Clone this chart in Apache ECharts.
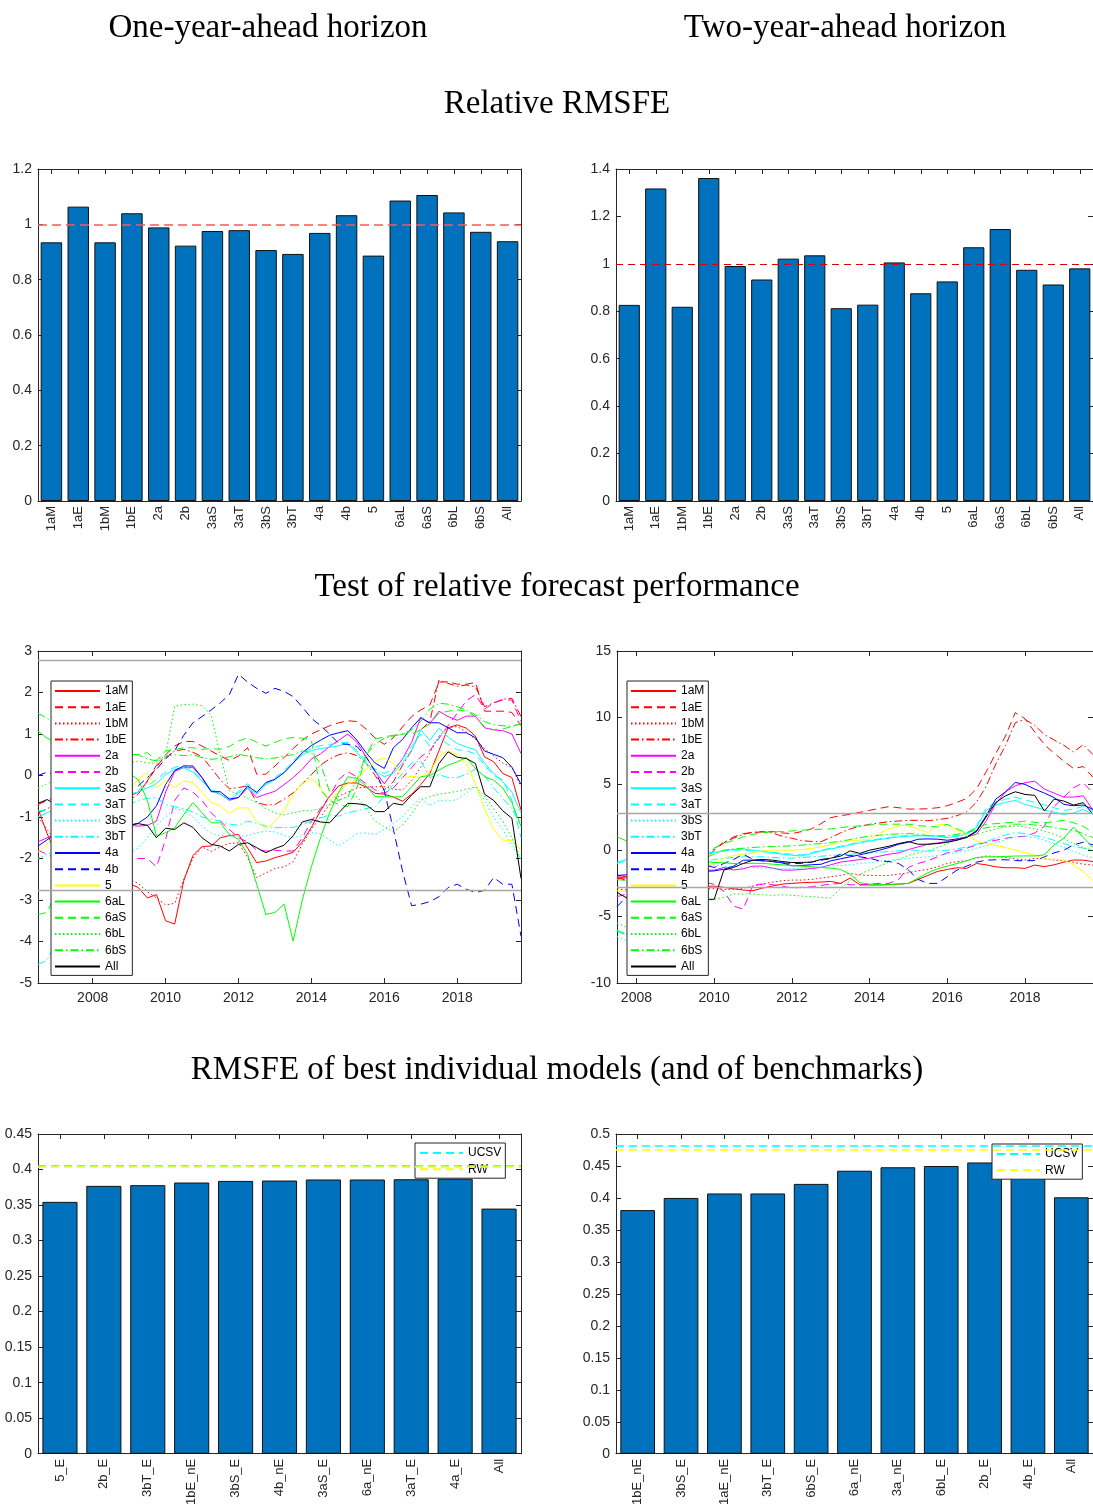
<!DOCTYPE html>
<html><head><meta charset="utf-8">
<script src="https://cdn.jsdelivr.net/npm/echarts@6/dist/echarts.min.js"></script>
<style>html,body{margin:0;padding:0;background:#fff}#c{width:1093px;height:1508px}</style>
</head><body><div id="c"></div>
<script>
// ---------- DATA ----------
const modelNames = ['1aM','1aE','1bM','1bE','2a','2b','3aS','3aT','3bS','3bT','4a','4b','5','6aL','6aS','6bL','6bS','All'];
const relRmsfe1y = [0.935,1.064,0.935,1.040,0.989,0.923,0.976,0.979,0.907,0.893,0.969,1.033,0.887,1.086,1.106,1.043,0.973,0.939];
const relRmsfe2y = [0.827,1.318,0.819,1.362,0.991,0.934,1.022,1.036,0.813,0.828,1.006,0.876,0.926,1.070,1.147,0.975,0.913,0.981];
const refLevel = 1;

// Test of relative forecast performance: quarterly, 1y from 2006Q3, 2y from 2007Q3
const start1y = 2006.5, start2y = 2007.5;
const critVal = 2.77;
const yearTicks = [2008,2010,2012,2014,2016,2018];

const perf1y_1aM = [-0.8,-1.4, -1.9,-2.2,-2.4,-2.3, -2.5,-2.6,-2.4,-2.5, -2.6,-2.7,-2.95,-2.87, -3.5,-3.58,-2.53,-1.93, -1.71,-1.7,-1.5,-1.45, -1.42,-1.75,-2.1,-2.06, -1.98,-1.92,-1.85,-1.6, -1.25,-0.85,-0.5,-0.25, -0.18,-0.18,-0.28,-0.43, -0.45,-0.52,-0.62,-0.45, -0.22,0.05,0.6,1.15, 1.22,1.14,0.95,0.45, 0.33,0.05,-0.05,-0.83];
const perf1y_1aE = [-0.7,-0.6, -0.5,-0.4,-0.3,-0.2, -0.3,-0.4,-0.5,-0.6, -0.5,-0.4,-0.15,0.2, 0.5,0.71,0.82,0.82, 0.71,0.59,0.47,0.36, 0.47,0.67,0.03,0.03, 0.23,0.43,0.65,0.85, 1.0,1.1,1.2,1.27, 1.32,1.3,1.12,0.9, 0.75,0.91,1.17,1.42, 1.58,1.7,2.25,2.26, 2.2,2.2,2.24,1.55, 1.55,1.55,1.52,1.2];
const perf1y_1bM = [-1.0,-1.3, -1.6,-1.9,-2.1,-2.2, -2.3,-2.4,-2.4,-2.5, -2.5,-2.6,-2.8,-2.95, -3.12,-3.08,-2.5,-2.0, -1.72,-1.83,-1.72,-1.64, -1.62,-1.98,-2.46,-2.35, -2.24,-2.2,-2.08,-1.65, -1.3,-1.0,-0.7,-0.5, -0.4,-0.3,-0.28,-0.27, -0.27,-0.33,-0.35,-0.12, 0.2,0.55,0.95,1.15, 1.18,1.05,0.87,0.65, 0.47,0.3,0.2,-0.27];
const perf1y_1bE = [-0.9,-0.8, -0.7,-0.6,-0.5,-0.6, -0.7,-0.8,-0.7,-0.6, -0.6,-0.45,-0.13,0.25, 0.43,0.59,0.63,0.56, 0.45,0.18,-0.1,-0.32, -0.29,-0.25,-0.65,-0.71, -0.7,-0.57,-0.42,-0.2, 0.02,0.25,0.4,0.5, 0.55,0.48,0.3,0.0, -0.35,-0.15,0.25,0.6, 1.1,1.3,2.3,2.22, 2.15,2.18,2.14,1.66, 1.75,1.84,1.86,1.42];
const perf1y_2a = [-1.6,-1.5, -1.4,-1.3,-1.2,-1.2, -1.3,-1.3,-1.2,-1.2, -1.2,-1.22,-1.2,-1.1, -0.4,0.1,0.19,0.19, -0.05,-0.37,-0.45,-0.6, -0.53,-0.3,-0.53,-0.45, -0.38,-0.22,-0.05,0.15, 0.4,0.52,0.7,0.85, 1.0,0.8,0.45,0.1, -0.2,0.1,0.4,0.8, 1.4,1.25,1.55,1.42, 1.33,1.43,1.43,1.15, 1.1,1.08,1.0,0.53];
const perf1y_2b = [-1.8,-1.9, -2.0,-2.1,-2.1,-2.0, -2.0,-1.9,-1.9,-1.9, -1.95,-2.0,-2.0,-2.2, -1.55,-0.6,-0.3,-0.4, -0.6,-0.9,-1.1,-1.3, -1.5,-1.6,-1.8,-1.82, -1.8,-1.82,-1.82,-1.5, -1.1,-0.8,-0.5,-0.1, 0.09,-0.03,-0.2,-0.35, -0.43,-0.3,-0.05,0.19, 0.45,0.6,0.9,1.2, 1.5,1.8,1.95,1.6, 1.75,1.82,1.82,1.3];
const perf1y_3aS = [-1.0,-0.9, -0.8,-0.7,-0.6,-0.6, -0.6,-0.7,-0.6,-0.5, -0.45,-0.4,-0.3,-0.2, 0.02,0.15,0.19,0.08, -0.13,-0.37,-0.45,-0.6, -0.42,-0.3,-0.45,-0.22, -0.1,0.07,0.3,0.5, 0.6,0.65,0.68,0.72, 0.77,0.55,0.3,0.1, -0.03,0.05,0.3,0.61, 1.1,0.85,1.14,0.93, 0.77,0.69,0.62,0.3, 0.05,-0.15,-0.4,-0.9];
const perf1y_3aT = [-0.85,-0.85, -0.8,-0.7,-0.65,-0.6, -0.6,-0.65,-0.6,-0.5, -0.45,-0.35,-0.25,-0.1, 0.08,0.2,0.25,0.12, -0.1,-0.35,-0.42,-0.55, -0.38,-0.2,-0.4,-0.2, -0.05,0.12,0.35,0.55, 0.65,0.72,0.75,0.78, 0.8,0.6,0.35,0.15, 0.05,0.15,0.4,0.7, 1.0,0.7,0.9,0.75, 0.62,0.6,0.52,0.25, 0.0,-0.1,-0.6,-1.5];
const perf1y_3bS = [-2.0,-1.9, -1.8,-1.8,-1.7,-1.7, -1.8,-1.8,-1.9,-1.9, -1.85,-1.75,-1.5,-1.2, -1.0,-0.8,-0.84,-1.0, -1.22,-1.4,-1.45,-1.46, -1.46,-1.45,-1.38,-1.34, -1.36,-1.45,-1.5,-1.45, -1.38,-1.4,-1.55,-1.7, -1.55,-1.4,-1.38,-1.42, -1.3,-1.15,-1.0,-0.75, -0.53,-0.73,-0.6,-0.62, -0.58,-0.42,-0.27,-0.6, -1.0,-1.3,-1.7,-2.0];
const perf1y_3bT = [-4.55,-4.45, -4.0,-3.5,-3.0,-2.5, -2.0,-1.6,-1.2,-0.9, -0.7,-0.6,-0.55,-0.53, -0.7,-0.75,-0.8,-0.88, -1.0,-1.05,-1.1,-1.17, -1.2,-1.1,-1.15,-1.22, -1.26,-1.25,-1.25,-1.18, -1.1,-1.02,-0.95,-0.98, -0.9,-0.85,-0.8,-0.75, -0.5,-0.2,0.05,0.3, 0.35,-0.05,0.02,-0.05, -0.05,0.03,0.15,0.0, -0.3,-0.55,-0.8,-1.2];
const perf1y_4a = [-1.7,-1.55, -1.4,-1.3,-1.2,-1.1, -1.1,-1.2,-1.2,-1.2, -1.2,-1.15,-1.0,-0.73, -0.22,0.12,0.23,0.23, -0.05,-0.39,-0.39,-0.57, -0.53,-0.25,-0.41,-0.17, -0.09,0.07,0.3,0.55, 0.72,0.85,0.97,1.03, 1.08,0.85,0.55,0.3, 0.17,0.67,0.87,1.15, 1.39,1.27,1.27,1.15, 1.03,1.03,0.91,0.59, 0.51,0.43,0.2,-0.21];
const perf1y_4b = [0.0,0.08, 0.0,-0.1,-0.2,-0.3, -0.3,-0.3,-0.3,-0.3, -0.3,-0.25,-0.05,0.15, 0.4,0.6,0.97,1.27, 1.42,1.58,1.75,1.95, 2.44,2.25,2.1,1.98, 2.1,2.03,1.9,1.65, 1.38,1.2,1.0,0.77, 0.75,0.7,0.45,0.1, -0.37,-1.3,-2.3,-3.14, -3.1,-3.04,-2.92,-2.7, -2.62,-2.74,-2.82,-2.77, -2.46,-2.62,-2.62,-3.87];
const perf1y_5 = [-1.85,-1.65, -1.4,-1.2,-1.0,-0.8, -0.6,-0.5,-0.4,-0.4, -0.35,-0.1,0.07,-0.29, -0.13,-0.29,-0.13,-0.17, -0.41,-0.65,-0.73,-0.92, -0.78,-0.78,-1.1,-1.28, -1.1,-0.85,-0.45,-0.2, -0.07,-0.3,-0.6,-0.4, -0.2,-0.1,0.15,0.35, 0.42,0.3,-0.05,-0.02, -0.05,0.1,0.45,0.6, 0.5,0.3,-0.2,-0.8, -1.3,-1.56,-1.56,-1.8];
const perf1y_6aL = [1.07,0.9, 0.8,0.7,0.6,0.5, 0.4,0.3,0.2,0.1, 0.05,-0.1,-0.6,-1.46, -1.38,-1.26,-0.94,-0.65, -0.9,-1.14,-1.14,-1.42, -1.54,-1.9,-2.62,-3.35, -3.3,-3.1,-3.99,-3.0, -2.2,-1.5,-0.9,-0.4, -0.03,-0.07,-0.25,-0.51, -0.51,-0.52,-0.51,-0.27, -0.03,0.0,0.13,0.25, 0.33,0.43,0.17,-0.03, -0.11,-0.3,-0.65,-1.23];
const perf1y_6aS = [-3.35,-3.3, -2.8,-2.2,-1.6,-1.0, -0.5,0.0,0.3,0.45, 0.5,0.51,0.55,0.35, 0.59,0.62,0.67,0.67, 0.63,0.65,0.63,0.7, 0.83,0.91,0.8,0.71, 0.8,0.88,0.92,0.9, 0.85,-0.35,-0.6,-0.7, -0.75,-0.3,0.5,0.88, 0.93,0.97,1.0,1.0, 1.1,1.25,1.5,1.55, 1.58,1.55,1.42,1.17, 1.1,1.12,1.18,1.25];
const perf1y_6bL = [-0.3,-0.2, -0.1,0.0,0.1,0.2, 0.3,0.3,0.3,0.3, 0.3,0.35,0.3,0.3, 0.5,1.67,1.71,1.72, 1.68,1.45,0.5,-0.37, -0.45,-0.55,-0.65,-0.8, -0.9,-0.95,-0.9,-0.85, -0.85,-0.8,-0.7,-0.6, -0.5,-0.51,-0.8,-1.1, -1.24,-1.36,-1.2,-0.92, -0.6,-0.51,-0.45,-0.42, -0.38,-0.33,-0.27,-0.5, -0.8,-1.1,-1.5,-2.04];
const perf1y_6bS = [1.5,1.38, 1.2,1.0,0.9,0.8, 0.7,0.6,0.55,0.5, 0.5,0.5,0.4,0.35, 0.47,0.5,0.48,0.5, 0.43,0.39,0.41,0.45, 0.51,0.47,0.43,0.4, 0.42,0.47,0.5,0.59, 0.55,0.3,-0.4,-0.6, -0.5,-0.1,0.5,0.75, 0.9,0.95,1.0,1.1, 1.3,1.6,1.74,1.72, 1.66,1.58,1.46,1.3, 1.22,1.2,1.18,1.26];
const perf1y_All = [-0.67,-0.58, -0.7,-0.8,-0.9,-1.0, -1.1,-1.1,-1.2,-1.2, -1.2,-1.16,-1.2,-1.5, -1.27,-1.3,-1.14,-1.25, -1.5,-1.66,-1.7,-1.82, -1.66,-1.62,-1.74,-1.86, -1.76,-1.68,-1.45,-1.12, -1.06,-1.12,-1.14,-0.9, -0.67,-0.68,-0.71,-0.87, -0.87,-0.67,-0.71,-0.47, -0.27,-0.27,0.29,0.57, 0.44,0.41,0.29,-0.45, -0.6,-0.85,-1.03,-2.48];

const perf2y_1aM = [-1.9,-2.0, -2.2,-2.4,-2.6,-2.7, -2.8,-2.8,-2.8,-2.75, -2.7,-2.8,-2.9,-3.0, -3.05,-2.85,-2.7,-2.55, -2.5,-2.45,-2.42,-2.4, -2.35,-2.5,-2.1,-2.6, -2.62,-2.62,-2.58,-2.55, -2.5,-2.2,-1.9,-1.6, -1.45,-1.32,-1.37,-1.0, -1.1,-1.25,-1.32,-1.32, -1.37,-1.12,-1.24,-1.1, -0.9,-0.74,-0.75,-0.86];
const perf2y_1aE = [-2.0,-2.3, -2.5,-2.6,-2.6,-2.5, -2.3,-2.0,-1.5,-0.8, 0.0,0.55,1.0,1.25, 1.33,1.38,1.4,1.3, 1.25,1.4,1.6,2.0, 2.45,2.6,2.7,2.85, 3.0,3.15,3.28,3.2, 3.1,3.1,3.12,3.2, 3.35,3.6,3.9,4.6, 5.9,7.3,8.6,10.36, 9.9,8.9,7.95,7.3, 6.7,6.15,6.3,5.5];
const perf2y_1bM = [-2.9,-3.0, -3.1,-3.1,-3.0,-3.0, -2.9,-2.9,-2.9,-2.9, -2.9,-2.95,-2.95,-2.85, -2.7,-2.55,-2.4,-2.3, -2.25,-2.25,-2.2,-2.1, -2.0,-1.9,-1.75,-1.85, -1.9,-1.9,-1.9,-1.8, -1.7,-1.55,-1.45,-1.25, -1.0,-0.86,-0.78,-0.6, -0.44,-0.47,-0.55,-0.65, -0.74,-0.62,-0.65,-0.74, -0.8,-0.92,-1.05,-1.12];
const perf2y_1bE = [-2.1,-2.2, -2.3,-2.3,-2.2,-2.0, -1.8,-1.5,-1.0,-0.5, 0.1,0.6,0.9,1.2, 1.35,1.4,1.3,1.05, 0.9,0.72,0.66,0.64, 0.95,1.3,1.6,1.8, 1.95,2.05,2.15,2.2, 2.25,2.25,2.22,2.3, 2.4,2.6,2.9,3.6, 4.8,6.5,7.9,9.6, 9.85,9.4,8.7,8.3, 7.9,7.4,7.95,7.2];
const perf2y_2a = [-2.0,-2.1, -2.1,-2.0,-1.9,-1.8, -1.7,-1.6,-1.6,-1.5, -1.5,-1.3,-1.49,-1.4, -1.2,-1.2,-1.35,-1.5, -1.5,-1.45,-1.38,-1.3, -1.1,-0.9,-0.8,-0.7, -0.6,-0.45,-0.3,-0.2, 0.05,0.25,0.45,0.55, 0.65,0.8,1.0,1.2, 2.2,3.5,4.4,4.85, 5.08,5.2,4.6,4.3, 4.0,4.0,4.1,3.0];
const perf2y_2b = [-3.5,-3.3, -3.0,-2.8,-2.7,-2.7, -2.6,-2.5,-2.4,-2.4, -2.57,-3.1,-4.2,-4.45, -2.6,-2.55,-2.6,-2.7, -2.85,-2.8,-2.75,-2.65, -2.55,-2.5,-2.6,-2.62, -2.55,-2.5,-2.5,-2.2, -1.3,-1.0,-0.8,-0.5, -0.2,-0.05,0.15,0.4, 0.6,0.75,0.9,1.0, 1.05,1.3,1.8,3.3, 4.0,4.7,5.08,4.3];
const perf2y_3aS = [-0.9,-0.7, -0.5,-0.4,-0.4,-0.3, -0.3,-0.3,-0.2,-0.2, -0.18,-0.05,0.05,0.08, 0.0,-0.1,-0.2,-0.3, -0.38,-0.43,-0.25,-0.05, 0.1,0.22,0.4,0.55, 0.7,0.8,0.9,1.0, 1.05,1.08,1.08,1.05, 0.95,1.05,1.2,1.7, 3.0,3.4,3.6,3.75, 3.45,3.25,3.05,2.85, 2.7,2.8,3.08,2.7];
const perf2y_3aT = [-1.0,-0.8, -0.6,-0.5,-0.4,-0.35, -0.3,-0.3,-0.25,-0.2, -0.15,-0.05,0.0,0.0, -0.05,-0.1,-0.15,-0.25, -0.3,-0.35,-0.2,0.0, 0.15,0.3,0.45,0.6, 0.75,0.85,0.95,1.05, 1.1,1.12,1.1,1.05, 1.0,1.1,1.3,1.8, 3.2,3.6,3.85,4.0, 3.8,3.6,3.4,3.2, 3.0,3.1,3.3,2.95];
const perf2y_3bS = [-6.5,-6.8, -6.0,-5.0,-4.0,-3.2, -2.5,-2.0,-1.6,-1.3, -1.1,-1.2,-1.25,-1.3, -1.3,-1.35,-1.35,-1.4, -1.4,-1.35,-1.3,-1.25, -1.2,-1.15,-1.1,-1.0, -0.95,-0.85,-0.75,-0.68, -0.6,-0.55,-0.5,-0.4, -0.3,-0.15,-0.05,0.15, 0.35,0.55,0.8,1.0, 1.05,0.95,0.75,0.5, 0.2,-0.1,-0.36,-0.56];
const perf2y_3bT = [-6.0,-6.3, -5.5,-4.5,-3.5,-2.8, -2.2,-1.7,-1.2,-0.9, -0.7,-0.6,-0.55,-0.5, -0.5,-0.5,-0.55,-0.6, -0.6,-0.55,-0.5,-0.45, -0.4,-0.35,-0.3,-0.25, -0.2,-0.15,-0.1,-0.05, 0.0,0.0,-0.05,-0.05, 0.0,0.1,0.25,0.45, 0.65,0.9,1.15,1.33, 1.25,1.1,0.95,0.75, 0.5,0.3,0.15,0.05];
const perf2y_4a = [-1.9,-1.85, -1.8,-1.8,-1.7,-1.7, -1.65,-1.6,-1.6,-1.6, -1.56,-1.43,-1.2,-0.75, -0.75,-0.8,-0.85,-0.95, -1.18,-1.15,-1.1,-1.06, -0.8,-0.65,-0.5,-0.35, -0.18,0.0,0.2,0.45, 0.6,0.83,0.85,0.83, 0.75,0.85,1.0,1.45, 2.6,3.85,4.4,5.1, 4.96,4.6,4.3,3.96, 3.45,3.35,3.4,3.08];
const perf2y_4b = [-4.25,-3.5, -3.0,-2.5,-2.0,-1.8, -1.5,-1.3,-1.2,-1.1, -1.3,-1.0,-0.7,-0.3, -0.7,-0.8,-0.85,-0.95, -1.0,-1.0,-0.9,-0.75, -0.65,-0.3,-0.4,-0.5, -0.6,-0.8,-0.85,-1.0, -1.5,-2.2,-2.5,-2.5, -2.0,-1.5,-1.2,-0.9, -0.75,-0.72,-0.72,-0.78, -0.8,-0.78,-0.5,-0.2, 0.0,0.4,0.6,0.4];
const perf2y_5 = [-3.05,-3.1, -3.0,-2.8,-2.5,-2.2, -1.9,-1.6,-1.4,-1.2, -1.0,-0.6,-0.4,-0.3, -0.2,-0.05,0.0,0.0, 0.0,0.05,0.13,0.25, 0.4,0.64,0.7,0.77, 0.8,1.27,1.6,1.85, 1.85,1.6,1.3,1.95, 1.95,1.5,1.1,0.7, 0.5,0.35,0.2,0.0, -0.2,-0.35,-0.68,-0.68, -0.75,-1.1,-1.6,-2.3];
const perf2y_6aL = [1.0,0.7, 0.5,0.3,0.1,-0.1, -0.3,-0.5,-0.7,-0.85, -0.93,-0.95,-1.0,-1.0, -0.98,-1.0,-1.05,-1.1, -1.15,-1.2,-1.25,-1.3, -1.35,-1.45,-1.8,-2.45, -2.55,-2.6,-2.6,-2.55, -2.5,-2.1,-1.7,-1.4, -1.2,-1.0,-0.8,-0.55, -0.5,-0.5,-0.47,-0.44, -0.43,-0.43,-0.35,0.4, 0.9,1.75,0.95,0.2];
const perf2y_6aS = [-2.2,-2.3, -2.0,-1.5,-1.0,-0.6, -0.3,-0.1,0.0,0.1, 0.15,0.5,0.75,1.0, 1.2,1.33,1.38,1.4, 1.45,1.5,1.55,1.58, 1.6,1.7,1.78,1.83, 1.9,1.95,1.96,1.96, 1.95,1.85,1.8,1.75, 1.95,1.6,1.3,1.7, 1.95,2.0,2.07,2.1, 2.2,2.1,2.07,2.15, 2.25,2.07,1.8,1.32];
const perf2y_6bL = [-5.5,-5.8, -5.5,-5.0,-4.6,-4.3, -4.1,-4.0,-3.9,-3.8, -3.7,-3.55,-3.3,-3.3, -3.3,-3.35,-3.4,-3.35, -3.4,-3.45,-3.5,-3.55, -3.6,-2.9,-2.3,-1.8, -1.5,-1.2,-0.9,-0.7, -0.4,-0.2,-0.05,0.2, 0.5,0.8,1.0,1.2, 1.4,1.6,1.75,1.83, 1.75,1.6,1.45,1.2, 0.9,0.5,0.2,-0.05];
const perf2y_6bS = [-6.1,-6.4, -5.5,-4.5,-3.5,-2.7, -2.0,-1.5,-1.0,-0.6, -0.3,0.0,0.1,0.15, 0.2,0.25,0.28,0.3, 0.33,0.38,0.45,0.5, 0.58,0.68,0.8,0.95, 1.05,1.12,1.2,1.22, 1.25,1.2,1.1,1.08, 1.1,1.2,1.33,1.5, 1.7,1.78,1.83,1.96, 1.96,1.9,1.83,1.7, 1.58,1.5,1.25,0.95];
const perf2y_All = [-3.17,-3.6, -3.5,-3.4,-3.5,-3.6, -3.6,-3.7,-3.7,-3.7, -3.7,-1.5,-1.3,-1.0, -0.75,-0.7,-0.75,-0.85, -0.93,-0.92,-0.9,-0.7, -0.6,-0.45,-0.05,-0.24, 0.0,0.15,0.3,0.5, 0.65,0.45,0.45,0.5, 0.6,0.75,0.95,1.4, 2.5,3.6,4.1,4.4, 4.2,4.13,2.95,3.85, 3.7,3.4,3.58,2.7];

// RMSFE of best individual models (and of benchmarks)
const best1yNames = ['5_E','2b_E','3bT_E','1bE_nE','3bS_E','4b_nE','3aS_E','6a_nE','3aT_E','4a_E','All'];
const best1yValues = [0.3545,0.377,0.378,0.3817,0.384,0.3845,0.386,0.386,0.3863,0.387,0.345];
const best2yNames = ['1bE_nE','3bS_E','1aE_nE','3bT_E','6bS_E','6a_nE','3a_nE','6bL_E','2b_E','4b_E','All'];
const best2yValues = [0.381,0.400,0.407,0.407,0.422,0.4426,0.448,0.450,0.4555,0.462,0.401];
const ucsv1y = 0.4055, rw1y = 0.4045;
const ucsv2y = 0.4816, rw2y = 0.4749;

// ---------- STYLE ----------
const modelColors = ['#ff0000','#ff0000','#ff0000','#ff0000','#ff00ff','#ff00ff','#00ffff','#00ffff','#00ffff','#00ffff','#0000ff','#0000ff','#ffff00','#00ff00','#00ff00','#00ff00','#00ff00','#000000'];
const modelDash = ['solid','dash','dot','dashdot','solid','dash','solid','dash','dot','dashdot','solid','dash','solid','solid','dash','dot','dashdot','solid'];
const dashMap = {solid:'solid', dash:[8,5], dot:[1.5,2.5], dashdot:[8,3,1.5,3]};

const perf1y = [perf1y_1aM,perf1y_1aE,perf1y_1bM,perf1y_1bE,perf1y_2a,perf1y_2b,perf1y_3aS,perf1y_3aT,perf1y_3bS,perf1y_3bT,perf1y_4a,perf1y_4b,perf1y_5,perf1y_6aL,perf1y_6aS,perf1y_6bL,perf1y_6bS,perf1y_All];
const perf2y = [perf2y_1aM,perf2y_1aE,perf2y_1bM,perf2y_1bE,perf2y_2a,perf2y_2b,perf2y_3aS,perf2y_3aT,perf2y_3bS,perf2y_3bT,perf2y_4a,perf2y_4b,perf2y_5,perf2y_6aL,perf2y_6aS,perf2y_6bL,perf2y_6bS,perf2y_All];

const AX = '#262626';
const FONT = '"Liberation Sans", Arial, sans-serif';
const SERIF = '"Liberation Serif", "Times New Roman", serif';

function quarterDates(start, n){ const a=[]; for(let k=0;k<n;k++) a.push(start+0.25*k); return a; }

function catX(gi, cats, pos){ return { type:'category', gridIndex:gi, data:cats, position:pos, boundaryGap:true,
  axisLine:{show:true,onZero:false,lineStyle:{color:AX,width:1}},
  axisTick:{show:true,inside:true,alignWithLabel:true,length:5,lineStyle:{color:AX}},
  axisLabel:{show:pos==='bottom',rotate:90,interval:0,margin:5,fontSize:13,fontFamily:FONT,color:AX},
  splitLine:{show:false} }; }
function valY(gi, min, max, step, pos){ return { type:'value', gridIndex:gi, min:min, max:max, interval:step, position:pos,
  axisLine:{show:true,onZero:false,lineStyle:{color:AX,width:1}},
  axisTick:{show:true,inside:true,length:5,lineStyle:{color:AX}},
  axisLabel:{show:pos==='left',margin:6,fontSize:14,fontFamily:FONT,color:AX},
  splitLine:{show:false} }; }
function timeX(gi, min, max, pos){ return { type:'value', gridIndex:gi, min:min, max:max, position:pos,
  axisLine:{show:true,onZero:false,lineStyle:{color:AX,width:1}},
  axisTick:{show:true,inside:true,length:5,customValues:yearTicks,lineStyle:{color:AX}},
  axisLabel:{show:pos==='bottom',customValues:yearTicks,margin:8,fontSize:14,fontFamily:FONT,color:AX,formatter:(v)=>String(Math.round(v))},
  splitLine:{show:false} }; }

const grids = [
  {left:38, top:169, width:483, height:332},
  {left:616, top:169, width:481, height:332},
  {left:38, top:651, width:483, height:332},
  {left:617, top:651, width:481, height:332},
  {left:38, top:1134, width:483, height:326},
  {left:616, top:1134, width:481, height:326}
];

const xAxes = [
  catX(0, modelNames, 'bottom'), catX(0, modelNames, 'top'),
  catX(1, modelNames, 'bottom'), catX(1, modelNames, 'top'),
  timeX(2, 2006.5, 2019.75, 'bottom'), timeX(2, 2006.5, 2019.75, 'top'),
  timeX(3, 2007.5, 2019.75, 'bottom'), timeX(3, 2007.5, 2019.75, 'top'),
  catX(4, best1yNames, 'bottom'), catX(4, best1yNames, 'top'),
  catX(5, best2yNames, 'bottom'), catX(5, best2yNames, 'top')
];
const yAxes = [
  valY(0,0,1.2,0.2,'left'), valY(0,0,1.2,0.2,'right'),
  valY(1,0,1.4,0.2,'left'), valY(1,0,1.4,0.2,'right'),
  valY(2,-5,3,1,'left'), valY(2,-5,3,1,'right'),
  valY(3,-10,15,5,'left'), valY(3,-10,15,5,'right'),
  valY(4,0,0.45,0.05,'left'), valY(4,0,0.45,0.05,'right'),
  valY(5,0,0.5,0.05,'left'), valY(5,0,0.5,0.05,'right')
];

const barStyle = {color:'#0072BD', borderColor:'#111', borderWidth:1};
const series = [];
series.push({type:'bar', xAxisIndex:0, yAxisIndex:0, data:relRmsfe1y, barCategoryGap:'20%', itemStyle:barStyle,
  markLine:{silent:true, precision:6, symbol:['none','none'], label:{show:false}, lineStyle:{color:'#ff5555', type:[9,5], width:1.6}, data:[{yAxis:refLevel}]}});
series.push({type:'bar', xAxisIndex:2, yAxisIndex:2, data:relRmsfe2y, barCategoryGap:'20%', itemStyle:barStyle,
  markLine:{silent:true, precision:6, symbol:['none','none'], label:{show:false}, lineStyle:{color:'#e00000', type:[7,5], width:1}, data:[{yAxis:refLevel}]}});

function addPerf(block, start, axIdx){
  const dates = quarterDates(start, block[0].length);
  block.forEach((vals, i) => {
    const s = {type:'line', name:modelNames[i], xAxisIndex:axIdx, yAxisIndex:axIdx,
      data: vals.map((v,k)=>[dates[k], v]), symbol:'none', showSymbol:false, clip:true,
      lineStyle:{color:modelColors[i], width:1, type:dashMap[modelDash[i]]}, itemStyle:{color:modelColors[i]}, z:3};
    if (i === 0) s.markLine = {silent:true, precision:6, symbol:['none','none'], label:{show:false},
      lineStyle:{color:'#a8a8a8', type:'solid', width:1.3}, data:[{yAxis:critVal},{yAxis:-critVal}]};
    series.push(s);
  });
}
addPerf(perf1y, start1y, 4);
addPerf(perf2y, start2y, 6);

function addBest(vals, ucsv, rw, axIdx){
  series.push({type:'bar', xAxisIndex:axIdx, yAxisIndex:axIdx, data:vals, barCategoryGap:'20%', itemStyle:barStyle});
  [['UCSV', ucsv, '#00ffff'], ['RW', rw, '#ffff00']].forEach(([nm, v, col]) => {
    series.push({type:'line', name:nm, xAxisIndex:axIdx, yAxisIndex:axIdx, data:[], symbol:'none',
      lineStyle:{color:col, type:[8,5], width:1.5}, itemStyle:{color:col},
      markLine:{silent:true, precision:6, symbol:['none','none'], label:{show:false}, lineStyle:{color:col, type:[8,5], width:1.5}, data:[{yAxis:v}]}});
  });
}
addBest(best1yValues, ucsv1y, rw1y, 8);
addBest(best2yValues, ucsv2y, rw2y, 10);

function mkLegend(left, top, names, iw){ return {orient:'vertical', left:left, top:top, data:names,
  backgroundColor:'#fff', borderColor:AX, borderWidth:1, borderRadius:0, padding:[4,4,3,3],
  itemGap:4.2, itemWidth:iw, itemHeight:12, selectedMode:false, itemStyle:{opacity:0},
  textStyle:{fontSize:12, fontFamily:FONT, color:'#000'}}; }

const legends = [
  mkLegend(51, 681, modelNames, 45),
  mkLegend(627, 681, modelNames, 45),
  Object.assign(mkLegend(415, 1143, ['UCSV','RW'], 43), {padding:[4,4,3,4]}),
  Object.assign(mkLegend(992, 1144, ['UCSV','RW'], 43), {padding:[4,4,3,4]})
];

function titleText(x, y, txt){ return {type:'text', x:x, y:y, silent:true,
  style:{text:txt, font:'33px ' + SERIF, fill:'#000', textAlign:'center', textVerticalAlign:'middle'}}; }

const chart = echarts.init(document.getElementById('c'), null, {renderer:'canvas', width:1093, height:1508});
chart.setOption({
  animation:false,
  backgroundColor:'#fff',
  grid:grids, xAxis:xAxes, yAxis:yAxes, series:series, legend:legends,
  graphic:[
    titleText(268, 28, 'One-year-ahead horizon'),
    titleText(845, 28, 'Two-year-ahead horizon'),
    titleText(557, 104, 'Relative RMSFE'),
    titleText(557, 587, 'Test of relative forecast performance'),
    titleText(557, 1070, 'RMSFE of best individual models (and of benchmarks)')
  ]
});
</script></body></html>
